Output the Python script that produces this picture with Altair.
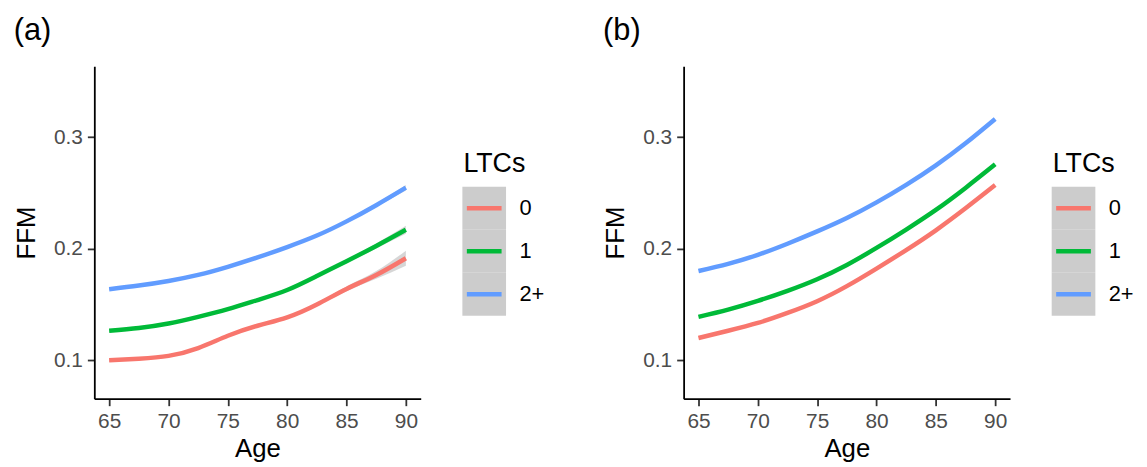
import altair as alt
import pandas as pd

# ---------------- data ----------------
ages = [65, 67.5, 70, 72.5, 75, 77.5, 80, 82.5, 85, 87.5, 90]
groups = ["0", "1", "2+"]
colors = ["#F8766D", "#00BA38", "#619CFF"]

# panel (a)
a_ltc0 = [0.100, 0.1015, 0.104, 0.111, 0.122, 0.131, 0.1385, 0.150, 0.164, 0.1765, 0.1915]
a_ltc1 = [0.1265, 0.129, 0.133, 0.139, 0.1459, 0.154, 0.163, 0.1755, 0.1888, 0.2025, 0.217]
a_ltc2 = [0.1637, 0.167, 0.1711, 0.1765, 0.1838, 0.1922, 0.2015, 0.2118, 0.2245, 0.239, 0.2547]

# confidence band half-widths for panel (a) (mostly hidden under the lines)
a_se0 = [0.0015, 0.0012, 0.0010, 0.0010, 0.0010, 0.0010, 0.0012, 0.0015, 0.0022, 0.0035, 0.0067]
a_se1 = [0.0012, 0.0010, 0.0008, 0.0008, 0.0008, 0.0008, 0.0010, 0.0012, 0.0016, 0.0022, 0.0035]
a_se2 = [0.0010, 0.0008, 0.0007, 0.0007, 0.0007, 0.0007, 0.0008, 0.0010, 0.0012, 0.0016, 0.0025]

# panel (b)
b_ltc0 = [0.120, 0.1265, 0.1335, 0.1425, 0.153, 0.1665, 0.1822, 0.1988, 0.2165, 0.2362, 0.257]
b_ltc1 = [0.139, 0.1455, 0.1533, 0.1623, 0.1727, 0.1855, 0.2007, 0.2172, 0.2348, 0.2545, 0.2756]
b_ltc2 = [0.180, 0.1865, 0.1945, 0.2045, 0.2155, 0.2275, 0.2415, 0.2572, 0.2747, 0.2945, 0.3163]

x_ticks = [65, 70, 75, 80, 85, 90]
y_ticks = [0.1, 0.2, 0.3]
panel_tags = ["(a)", "(b)"]
x_title = "Age"
y_title = "FFM"
legend_title = "LTCs"

FONT = "Liberation Sans, Arial, sans-serif"


def long_df(series, ses=None):
    rows = []
    for gi, g in enumerate(groups):
        for i, a in enumerate(ages):
            v = series[gi][i]
            s = ses[gi][i] if ses is not None else 0.0
            rows.append({"age": a, "ffm": v, "lo": v - s, "hi": v + s, "ltc": g})
    return pd.DataFrame(rows)


df_a = long_df([a_ltc0, a_ltc1, a_ltc2], [a_se0, a_se1, a_se2])
df_b = long_df([b_ltc0, b_ltc1, b_ltc2])

color_scale = alt.Scale(domain=groups, range=colors)
y_scale = alt.Scale(domain=[0.0656, 0.3634], nice=False, zero=False)

PW, PH = 329, 335


def plot_panel(df, ribbon):
    x = alt.X(
        "age:Q",
        scale=alt.Scale(domain=[63.75, 91.25], nice=False, zero=False),
        axis=alt.Axis(values=x_ticks, title=x_title, labelFlush=False,
                      titlePadding=4),
    )
    y = alt.Y(
        "ffm:Q",
        scale=y_scale,
        axis=alt.Axis(values=y_ticks, format=".1f", title=y_title,
                      titlePadding=14),
    )
    base = alt.Chart(df)
    layers = []
    if ribbon:
        layers.append(
            base.mark_area(color="#999999", opacity=0.4, interpolate="natural").encode(
                x=x, y=alt.Y("lo:Q", scale=y_scale), y2="hi:Q", detail="ltc:N"
            )
        )
    layers.append(
        base.mark_line(strokeWidth=4.5, interpolate="natural", strokeCap="butt").encode(
            x=x, y=y, color=alt.Color("ltc:N", scale=color_scale, legend=None)
        )
    )
    return alt.layer(*layers).properties(width=PW, height=PH)


def legend_panel():
    ldf = pd.DataFrame({"ltc": groups})
    yscale = alt.Scale(domain=groups, range=[121.3, 251.3], paddingInner=0, paddingOuter=0)
    rect = alt.Chart(ldf).mark_rect(color="#cccccc").encode(
        y=alt.Y("ltc:N", scale=yscale,
                axis=alt.Axis(orient="right", domain=False, ticks=False, title=None,
                              labelFontSize=22, labelColor="black", labelPadding=13,
                              labelFont=FONT)),
        x=alt.value(0), x2=alt.value(44),
    )
    rule = alt.Chart(ldf).mark_rule(strokeWidth=4.5, strokeCap="butt").encode(
        y=alt.Y("ltc:N", scale=yscale),
        x=alt.value(4.5), x2=alt.value(39.5),
        color=alt.Color("ltc:N", scale=color_scale, legend=None),
    )
    ttl = alt.Chart(pd.DataFrame({"t": [legend_title]})).mark_text(
        align="left", baseline="alphabetic", fontSize=27, font=FONT, color="black"
    ).encode(text="t:N", x=alt.value(1), y=alt.value(106))
    return alt.layer(rect, rule, ttl).properties(width=44, height=PH)


def group(df, tag, ribbon):
    return alt.hconcat(plot_panel(df, ribbon), legend_panel(), spacing=42).properties(
        title=alt.TitleParams(tag, anchor="start", fontSize=31, fontWeight="normal",
                              font=FONT, color="black", offset=20, frame="bounds")
    )


chart = alt.hconcat(
    group(df_a, panel_tags[0], True),
    group(df_b, panel_tags[1], False),
    spacing=58,
).configure(font=FONT).configure_view(stroke=None).configure_axis(
    grid=False,
    domainColor="black",
    domainWidth=1.8,
    tickColor="#333333",
    tickWidth=1.8,
    tickSize=7,
    labelFontSize=21,
    labelColor="#4d4d4d",
    labelPadding=5,
    titleFontSize=26,
    titleFontWeight="normal",
    titleColor="black",
)

chart.save("out.html", embed_options={"renderer": "svg", "actions": False})
